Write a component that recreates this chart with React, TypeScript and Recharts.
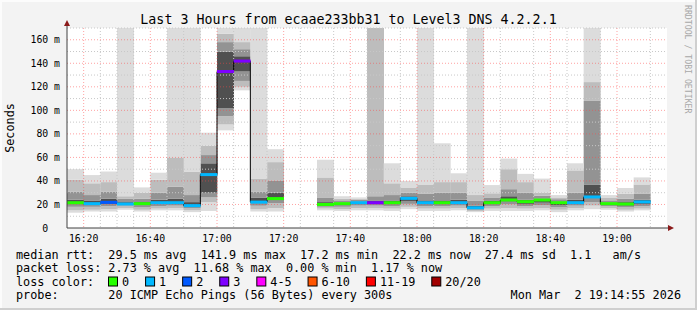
import React from "react";
import { ComposedChart, Bar, Line, XAxis, YAxis, CartesianGrid } from "recharts";

const MONO = "'DejaVu Sans Mono', monospace";
const N = null;

// 5-minute slots, labelled by start time
const slotStart = [
  "16:15", "16:20", "16:25", "16:30", "16:35", "16:40", "16:45", "16:50", "16:55",
  "17:00", "17:05", "17:10", "17:15", "17:20", "17:25", "17:30", "17:35", "17:40",
  "17:45", "17:50", "17:55", "18:00", "18:05", "18:10", "18:15", "18:20", "18:25",
  "18:30", "18:35", "18:40", "18:45", "18:50", "18:55", "19:00", "19:05", "19:10",
];

// smoke percentiles (ms)
const lo = [13, 14, 14, 15.5, 14, 15, 15, 13.5, 14.5, 83, 117, 14, 14, N, N, 15, 14.5, 15, 15, 14.5, 16, 14.5, 14.5, 15, 13.5, 14.5, 14.5, 14.5, 15, 13.5, 15, 16, 15.5, 14, 15, N];
const p10 = [15, 15.5, 16, 17, 15.5, 16.5, 17, 15, 22, 88, 120, 16, 17, N, N, 16.5, 16, 17, 17, 16.5, 18, 16.5, 16.5, 17, 14.5, 16.5, 17, 16.5, 17, 15.5, 17, 19, 17, 15.5, 16.5, N];
const p25 = [18, 18, 18.5, 19, 17.5, 18.5, 19, 17, 26, 95, 125, 19, 21, N, N, 18, 18, 19, 19, 18.5, 20.5, 18.5, 18.5, 19, 15.5, 18.5, 20, 18.5, 19.5, 17.5, 19, 22, 18.5, 17.5, 18.5, N];
const p40 = [20, 19.5, 20.5, 20, 19.5, 20.5, 20.5, 18.5, 30, 102, 133, 21, 24, N, N, 19.5, 19.5, 20.5, 20.5, 20, 23, 20, 20, 20.5, 16.5, 20, 22.5, 20.5, 21.5, 19.5, 20.5, 26.5, 19.5, 19, 20.5, N];
const p60 = [24, 23, 25, 22, 22, 24, 25, 22, 55, 150, 146, 26, 30, N, N, 22, 21.5, 22.5, 23, 23, 27, 23.5, 23.5, 24, 19, 23, 27, 24, 25, 22.5, 24, 37, 21.5, 22, 24, N];
const p75 = [31, 28, 31, 25, 25, 30, 35, 28, 62, 158, 152, 31, 40, N, N, 26, 23.5, 24, 27, 28, 30, 29, 30, 30, 23, 26, 33, 30, 27.5, 24.5, 30, 108, 23.5, 25, 29, N];
const p90 = [41, 38, 39, 27, 30, 41, 60, 48, 70, 165, 158, 42, 56, N, N, 43, 25, 25, 180, 38, 34, 37, 39, 39, 28, 29.5, 50, 39, 30, 26, 49, 124, 25.5, 29, 37, N];
const hi = [50, 45, 48, 180, 34.5, 47, 180, 180, 81, 180, 180, 180, 67, N, N, 58, 27, 26, 180, 55, 40, 180, 72, 46.5, 180, 36.5, 59, 46, 42, 28, 55, 180, 28, 34, 43, N];

const median = [21.5, 20.7, 21.8, 20.4, 20.7, 21.5, 21.5, 19, 45.4, 133, 141.9, 22, 25, N, N, 20, 20.7, 21.5, 21.5, 21.5, 25.2, 21.5, 21.5, 21.5, 17.2, 21.5, 23.8, 22.4, 23.8, 21.5, 21.5, 26.4, 20.7, 20.4, 22.2, N];
const lossCount = [0, 1, 2, 1, 0, 1, 1, 1, 1, 3, 3, 1, 0, N, N, 0, 0, 1, 3, 0, 1, 1, 0, 1, 1, 0, 0, 0, 0, 0, 1, 1, 0, 0, 1, N];

const lossLabels = ["0", "1", "2", "3", "4-5", "6-10", "11-19", "20/20"];
const lossColors = ["#26ff00", "#00b8ff", "#0059ff", "#7e00ff", "#ff00ff", "#ff5500", "#ff0000", "#a10000"];

const yTicks = [0, 20, 40, 60, 80, 100, 120, 140, 160];
const xTickLabels = ["16:20", "16:40", "17:00", "17:20", "17:40", "18:00", "18:20", "18:40", "19:00"];
const xTicks = xTickLabels.map((l) => slotStart.indexOf(l));

const smokeLight = "#dcdcdc";
const smokeMid = "#bdbdbd";
const smokeDark = "#939393";
const smokeCore = "#505050";

const lossBucket = (n: number) => (n <= 3 ? n : n <= 5 ? 4 : n <= 10 ? 5 : n <= 19 ? 6 : 7);

const diff = (a: (number | null)[], b: (number | null)[], i: number) =>
  a[i] == null || b[i] == null ? null : (a[i] as number) - (b[i] as number);

const rows = slotStart.map((slot, i) => ({
  slot,
  t: i,
  base: lo[i],
  s1: diff(p10, lo, i),
  s2: diff(p25, p10, i),
  s3: diff(p40, p25, i),
  s4: diff(p60, p40, i),
  s5: diff(p75, p60, i),
  s6: diff(p90, p75, i),
  s7: diff(hi, p90, i),
  median: median[i],
  loss: lossCount[i],
}));

const minorH = Array.from({ length: 34 }, (_, k) => (k + 1) * 5).filter((v) => v % 20 !== 0);
const majorH = yTicks.filter((v) => v > 0);
const minorV = Array.from({ length: 36 }, (_, k) => k).filter((v) => v > 0 && !xTicks.includes(v));

const MedianMark = (props: any) => {
  const { x, y, width, payload } = props;
  if (payload == null || payload.median == null) return null;
  return <rect x={x} y={y - 1.5} width={width} height={3} fill={lossColors[lossBucket(payload.loss)]} />;
};

const YTick = ({ x, y, payload }: any) => (
  <text x={x} y={y + 3.5} textAnchor="end" fontFamily={MONO} fontSize={9.8} fill="#000" xmlSpace="preserve">
    {payload.value === 0 ? "0  " : `${payload.value} m`}
  </text>
);

const XTick = ({ x, y, payload }: any) => (
  <text x={x} y={y + 13.5} textAnchor="middle" fontFamily={MONO} fontSize={9.8} fill="#000">
    {slotStart[payload.value]}
  </text>
);

export default function App() {
  const legendX: number[] = [];
  let cx = 108;
  lossLabels.forEach((l) => {
    legendX.push(cx);
    cx += 14 + l.length * 7.08 + 16;
  });

  return (
    <div
      style={{
        position: "absolute",
        left: 0,
        top: 0,
        width: 697,
        height: 310,
        background: "#f3f3f3",
        boxShadow: "inset -2px -2px 0 #cfcfcf, inset 2px 2px 0 #fcfcfc",
      }}
    >
      <div style={{ position: "absolute", left: 67, top: 28, width: 600, height: 200, background: "#fff" }} />
      <div style={{ position: "absolute", left: 0, top: 0 }}>
        <ComposedChart
          width={697}
          height={310}
          data={rows}
          margin={{ top: 28, right: 30, bottom: 62, left: 0 }}
          barCategoryGap={0}
          barGap={0}
        >
          <XAxis
            xAxisId="time"
            dataKey="t"
            type="number"
            domain={[0, 36]}
            ticks={xTicks}
            tick={<XTick />}
            tickLine={false}
            tickSize={0}
            tickMargin={0}
            height={20}
            axisLine={{ stroke: "#404040" }}
          />
          <XAxis xAxisId="cat" dataKey="slot" type="category" hide height={0} />
          <XAxis xAxisId="cat2" dataKey="slot" type="category" hide height={0} />
          <YAxis
            domain={[0, 170]}
            allowDataOverflow
            ticks={yTicks}
            tick={<YTick />}
            tickLine={false}
            tickSize={0}
            tickMargin={7}
            width={67}
            axisLine={{ stroke: "#404040" }}
          />
          <Bar xAxisId="cat" dataKey="base" stackId="smoke" fill="transparent" isAnimationActive={false} />
          <Bar xAxisId="cat" dataKey="s1" stackId="smoke" fill={smokeLight} isAnimationActive={false} />
          <Bar xAxisId="cat" dataKey="s2" stackId="smoke" fill={smokeMid} isAnimationActive={false} />
          <Bar xAxisId="cat" dataKey="s3" stackId="smoke" fill={smokeDark} isAnimationActive={false} />
          <Bar xAxisId="cat" dataKey="s4" stackId="smoke" fill={smokeCore} isAnimationActive={false} />
          <Bar xAxisId="cat" dataKey="s5" stackId="smoke" fill={smokeDark} isAnimationActive={false} />
          <Bar xAxisId="cat" dataKey="s6" stackId="smoke" fill={smokeMid} isAnimationActive={false} />
          <Bar xAxisId="cat" dataKey="s7" stackId="smoke" fill={smokeLight} isAnimationActive={false} />
          <CartesianGrid
            xAxisId="time"
            horizontalValues={minorH}
            verticalValues={minorV}
            stroke="#c8c8c8"
            strokeDasharray="1 2"
            {...({ zIndex: 350 } as any)}
          />
          <CartesianGrid
            xAxisId="time"
            horizontalValues={majorH}
            verticalValues={xTicks}
            stroke="rgba(255,70,70,0.5)"
            strokeDasharray="1 2"
            {...({ zIndex: 360 } as any)}
          />
          <Line
            xAxisId="time"
            dataKey="median"
            type="stepAfter"
            stroke="#000"
            strokeWidth={1}
            dot={false}
            activeDot={false}
            isAnimationActive={false}
          />
          <Bar
            xAxisId="cat2"
            dataKey="median"
            shape={<MedianMark />}
            isAnimationActive={false}
            {...({ zIndex: 450 } as any)}
          />
        </ComposedChart>
      </div>
      <svg width={697} height={310} style={{ position: "absolute", left: 0, top: 0, pointerEvents: "none" }}>
        <line x1={67} y1={22} x2={67} y2={28} stroke="#404040" />
        <line x1={667} y1={228} x2={671} y2={228} stroke="#404040" />
        <polygon points="64,26 70,26 67,20" fill="#8b1a1a" />
        <polygon points="668,225 668,231 674,228" fill="#8b1a1a" />
        <text x={348.5} y={23.8} textAnchor="middle" fontFamily={MONO} fontSize={13.3} fill="#000">
          Last 3 Hours from ecaae233bb31 to Level3 DNS 4.2.2.1
        </text>
        <text transform="translate(14,128) rotate(-90)" textAnchor="middle" fontFamily={MONO} fontSize={11.8} fill="#000">
          Seconds
        </text>
        <text transform="translate(685,5) rotate(90)" fontFamily={MONO} fontSize={8.2} fill="#a8a8a8">
          RRDTOOL / TOBI OETIKER
        </text>
        <g fontFamily={MONO} fontSize={11.8} fill="#000">
          <text x={16} y={258.5} xmlSpace="preserve">
            {"median rtt:  29.5 ms avg  141.9 ms max  17.2 ms min  22.2 ms now  27.4 ms sd  1.1   am/s"}
          </text>
          <text x={16} y={272} xmlSpace="preserve">
            {"packet loss: 2.73 % avg  11.68 % max  0.00 % min  1.17 % now"}
          </text>
          <text x={16} y={285.5} xmlSpace="preserve">
            {"loss color:"}
          </text>
          {lossLabels.map((l, i) => (
            <g key={l}>
              <rect x={legendX[i] + 0.5} y={277} width={9} height={9} fill={lossColors[i]} stroke="#000" />
              <text x={legendX[i] + 14} y={285.5}>
                {l}
              </text>
            </g>
          ))}
          <text x={16} y={299} xmlSpace="preserve">
            {"probe:       20 ICMP Echo Pings (56 Bytes) every 300s"}
          </text>
          <text x={681} y={299} textAnchor="end" xmlSpace="preserve">
            {"Mon Mar  2 19:14:55 2026"}
          </text>
        </g>
      </svg>
    </div>
  );
}
